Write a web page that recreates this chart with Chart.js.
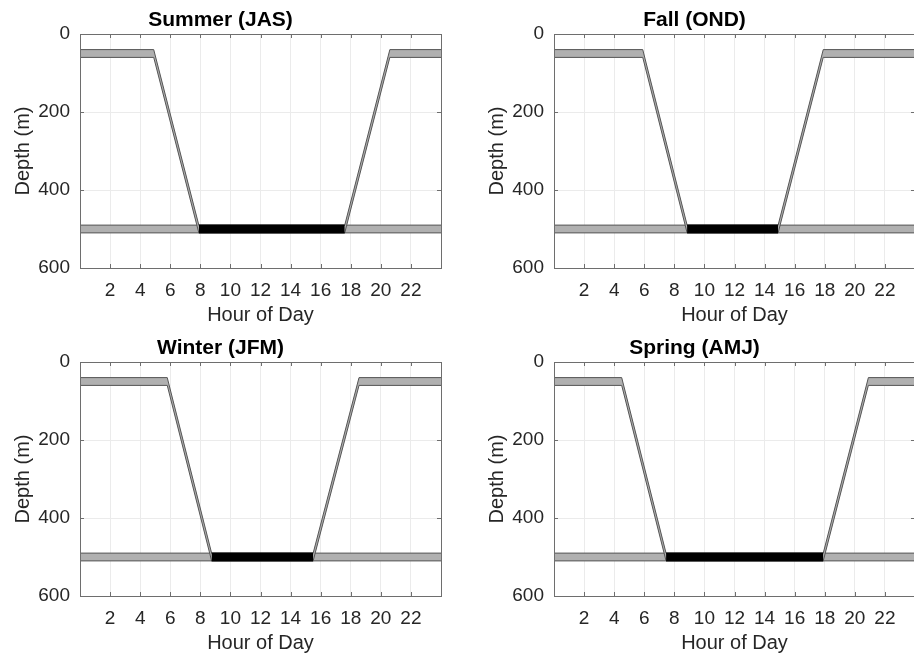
<!DOCTYPE html>
<html>
<head>
<meta charset="utf-8">
<script src="https://cdn.jsdelivr.net/npm/chart.js@4"></script>
<style>
  html, body { margin: 0; padding: 0; background: #fff; }
  #wrap { position: relative; width: 914px; height: 656px; overflow: hidden; }
  canvas { position: absolute; }
</style>
</head>
<body>
<div id="wrap">
  <canvas id="c0" width="460" height="328" style="left:0;top:0"></canvas>
  <canvas id="c1" width="460" height="328" style="left:474px;top:0"></canvas>
  <canvas id="c2" width="460" height="328" style="left:0;top:328px"></canvas>
  <canvas id="c3" width="460" height="328" style="left:474px;top:328px"></canvas>
</div>
<script>
// one entry per panel
const seasonTitles = ["Summer (JAS)", "Fall (OND)", "Winter (JFM)", "Spring (AMJ)"];
const leaveSurface = [4.9, 5.9, 5.8, 4.5];     // hour the descent starts
const reachDepth   = [7.9, 8.85, 8.75, 7.45];  // hour the deep layer is reached
const leaveDepth   = [17.6, 14.9, 15.5, 17.9]; // hour the ascent starts
const reachSurface = [20.6, 17.9, 18.55, 20.9];// hour back at the surface layer

const surfaceLayer = [40, 60];   // depth band, m
const deepLayer = [490, 510];
const dayRange = [0, 24];
const hourTicks = [2, 4, 6, 8, 10, 12, 14, 16, 18, 20, 22];
const depthTicks = [0, 200, 400, 600];

const FONT = "'Liberation Sans', Arial, Helvetica, sans-serif";
const TXT = "#262626";
const GRAY = "#b0b0b0";
const EDGE = "#555555";

// MATLAB-like box with inward ticks
const boxTicks = {
  id: "boxTicks",
  afterDraw(chart) {
    const { ctx, chartArea: a, scales: { x, y } } = chart;
    ctx.save();
    ctx.strokeStyle = "#6e6e6e";
    ctx.lineWidth = 1;
    ctx.strokeRect(Math.round(a.left) + 0.5, Math.round(a.top) + 0.5,
      Math.round(a.width), Math.round(a.height));
    ctx.beginPath();
    hourTicks.forEach(h => {
      const px = Math.round(x.getPixelForValue(h)) + 0.5;
      ctx.moveTo(px, a.bottom); ctx.lineTo(px, a.bottom - 4);
      ctx.moveTo(px, a.top); ctx.lineTo(px, a.top + 4);
    });
    depthTicks.forEach(d => {
      const py = Math.round(y.getPixelForValue(d)) + 0.5;
      ctx.moveTo(a.left, py); ctx.lineTo(a.left + 4, py);
      ctx.moveTo(a.right, py); ctx.lineTo(a.right - 4, py);
    });
    ctx.stroke();
    ctx.restore();
  }
};

function band(points, fill, color, order) {
  return {
    data: points, fill: fill, backgroundColor: color, borderColor: EDGE,
    borderWidth: 1, pointRadius: 0, tension: 0, order: order
  };
}

function makeChart(i) {
  const t1 = leaveSurface[i], t2 = reachDepth[i], t3 = leaveDepth[i], t4 = reachSurface[i];
  const [s0, s1] = surfaceLayer;
  const [d0, d1] = deepLayer;
  const [h0, h1] = dayRange;

  const datasets = [
    // deep layer, whole day
    band([{ x: h0, y: d0 }, { x: h1, y: d0 }], false, GRAY, 3),
    band([{ x: h0, y: d1 }, { x: h1, y: d1 }], "-1", GRAY, 3),
    // migration path
    band([{ x: h0, y: s0 }, { x: t1, y: s0 }, { x: t2, y: d0 }, { x: t3, y: d0 }, { x: t4, y: s0 }, { x: h1, y: s0 }], false, GRAY, 2),
    band([{ x: h0, y: s1 }, { x: t1, y: s1 }, { x: t2, y: d1 }, { x: t3, y: d1 }, { x: t4, y: s1 }, { x: h1, y: s1 }], "-1", GRAY, 2),
    // daytime at depth
    band([{ x: t2, y: d0 }, { x: t3, y: d0 }], false, "#000", 1),
    band([{ x: t2, y: d1 }, { x: t3, y: d1 }], "-1", "#000", 1)
  ];
  datasets[4].borderColor = "#000";
  datasets[5].borderColor = "#000";

  new Chart(document.getElementById("c" + i), {
    type: "line",
    data: { datasets },
    plugins: [boxTicks],
    options: {
      responsive: false,
      animation: false,
      layout: { padding: { left: 0, right: 19, top: 0, bottom: 0 } },
      plugins: {
        legend: { display: false },
        tooltip: { enabled: false },
        title: {
          display: true, text: seasonTitles[i], color: "#000",
          font: { family: FONT, size: 21, weight: "bold", lineHeight: 1.2 },
          padding: { top: 8, bottom: 0.8 }
        }
      },
      scales: {
        x: {
          type: "linear", min: h0, max: h1,
          grid: { color: "#ebebeb", drawTicks: false },
          border: { display: false },
          afterBuildTicks: s => { s.ticks = [h0].concat(hourTicks, [h1]).map(v => ({ value: v })); },
          ticks: {
            autoSkip: false, maxRotation: 0, padding: 11, color: TXT,
            font: { family: FONT, size: 19 },
            callback: v => (hourTicks.includes(v) ? String(v) : "")
          },
          title: {
            display: true, text: "Hour of Day", color: TXT,
            font: { family: FONT, size: 20, lineHeight: 1.2 },
            padding: { top: 0, bottom: 1 }
          },
          afterFit: s => { s.height = 60; }
        },
        y: {
          type: "linear", min: 0, max: 600, reverse: true,
          grid: { color: "#ebebeb", drawTicks: false },
          border: { display: false },
          afterBuildTicks: s => { s.ticks = depthTicks.map(v => ({ value: v })); },
          ticks: { padding: 10, color: TXT, font: { family: FONT, size: 19 } },
          title: {
            display: true, text: "Depth (m)", color: TXT,
            font: { family: FONT, size: 20, lineHeight: 1.2 },
            padding: { top: 11, bottom: 0 }
          },
          afterFit: s => { s.width = 80; }
        }
      }
    }
  });
}

seasonTitles.forEach((_, i) => makeChart(i));
</script>
</body>
</html>
